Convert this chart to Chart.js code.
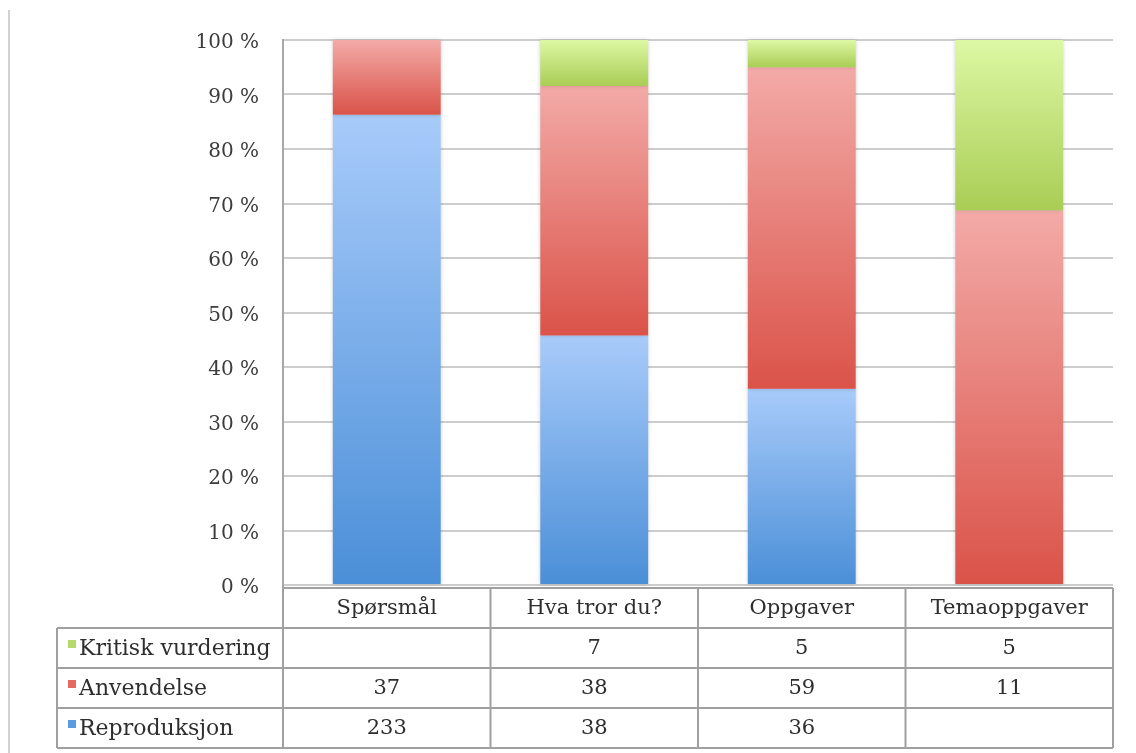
<!DOCTYPE html>
<html>
<head>
<meta charset="utf-8">
<script src="https://cdn.jsdelivr.net/npm/chart.js@4/dist/chart.umd.min.js"></script>
<style>
  body { margin: 0; background: #fff; }
  canvas { display: block; }
</style>
</head>
<body>
<canvas id="myChart" width="1136" height="753"></canvas>
<script>
// counts per category
const categories = ['Spørsmål', 'Hva tror du?', 'Oppgaver', 'Temaoppgaver'];
const seriesNames = ['Reproduksjon', 'Anvendelse', 'Kritisk vurdering'];
const reproduksjon = [233, 38, 36, null];
const anvendelse = [37, 38, 59, 11];
const kritisk = [null, 7, 5, 5];
const yTicks = [0, 10, 20, 30, 40, 50, 60, 70, 80, 90, 100];

// top / bottom colours of the bar gradients, and the legend square colour
const shades = [
    { top: '#a8cbfa', bottom: '#4b8fd8', key: '#5d9ce2' },   // blue
    { top: '#f3aaa7', bottom: '#da5349', key: '#e46a62' },   // red
    { top: '#ddf8a4', bottom: '#a9cd55', key: '#b5d96a' }    // green
];

const series = [reproduksjon, anvendelse, kritisk];
const totals = categories.map((c, i) => series.reduce((s, arr) => s + (arr[i] || 0), 0));
const asPercent = arr => arr.map((v, i) => (v || 0) / totals[i] * 100);

const FONT = "'DejaVu Serif', serif";

// paint each stacked segment with its own vertical gradient
const gradientBars = {
    id: 'gradientBars',
    afterDatasetsDraw(chart) {
        const ctx = chart.ctx;
        chart.data.datasets.forEach((ds, d) => {
            const meta = chart.getDatasetMeta(d);
            meta.data.forEach(el => {
                const h = el.base - el.y;
                if (h <= 0.5) return;
                const g = ctx.createLinearGradient(0, el.y, 0, el.base);
                g.addColorStop(0, shades[d].top);
                g.addColorStop(1, shades[d].bottom);
                ctx.save();
                ctx.shadowColor = 'rgba(0,0,0,0.18)';
                ctx.shadowBlur = 4;
                ctx.fillStyle = g;
                ctx.fillRect(el.x - el.width / 2, el.y, el.width, h);
                ctx.restore();
            });
        });
    }
};

// data table under the plot, columns follow the category scale
const dataTable = {
    id: 'dataTable',
    afterDraw(chart) {
        const ctx = chart.ctx;
        const a = chart.chartArea;
        const x = chart.scales.x;
        const colW = (a.right - a.left) / categories.length;
        const rowH = 40;
        const top = a.bottom + 3;
        const labelLeft = 57;
        const rows = [2, 1, 0]; // Kritisk, Anvendelse, Reproduksjon

        ctx.save();
        // page edge line
        ctx.strokeStyle = '#d2d2d2';
        ctx.lineWidth = 2;
        ctx.beginPath();
        ctx.moveTo(9, 10);
        ctx.lineTo(9, 753);
        ctx.stroke();

        ctx.strokeStyle = '#a0a0a0';
        ctx.lineWidth = 2;
        ctx.beginPath();
        // horizontal lines
        ctx.moveTo(a.left, top);
        ctx.lineTo(a.right, top);
        for (let r = 1; r <= 4; r++) {
            ctx.moveTo(labelLeft, top + r * rowH);
            ctx.lineTo(a.right, top + r * rowH);
        }
        // vertical lines
        ctx.moveTo(labelLeft, top + rowH);
        ctx.lineTo(labelLeft, top + 4 * rowH);
        for (let c = 0; c <= categories.length; c++) {
            const cx = a.left + c * colW;
            ctx.moveTo(cx, c === 0 ? a.bottom : top);
            ctx.lineTo(cx, top + 4 * rowH);
        }
        ctx.stroke();

        ctx.fillStyle = '#2e2e2e';
        ctx.textBaseline = 'middle';
        ctx.textAlign = 'center';
        ctx.font = '21px ' + FONT;
        categories.forEach((c, i) => {
            ctx.fillText(c, x.getPixelForValue(i), top + rowH / 2 + 1);
        });

        rows.forEach((s, r) => {
            const cy = top + (r + 1) * rowH + rowH / 2 + 1;
            ctx.fillStyle = shades[s].key;
            ctx.fillRect(labelLeft + 11, cy - 9, 8, 8);
            ctx.fillStyle = '#2e2e2e';
            ctx.textAlign = 'left';
            ctx.font = '22px ' + FONT;
            ctx.fillText(seriesNames[s], labelLeft + 22, cy);
            ctx.textAlign = 'center';
            ctx.font = '21px ' + FONT;
            series[s].forEach((v, i) => {
                if (v == null) return;
                ctx.fillText(String(v), x.getPixelForValue(i), cy);
            });
        });
        ctx.restore();
    }
};

const ctx = document.getElementById('myChart').getContext('2d');
const myChart = new Chart(ctx, {
    type: 'bar',
    data: {
        labels: categories,
        datasets: series.map((arr, i) => ({
            label: seriesNames[i],
            data: asPercent(arr),
            backgroundColor: 'rgba(0,0,0,0)',
            borderWidth: 0,
            categoryPercentage: 1,
            barPercentage: 0.52
        }))
    },
    options: {
        responsive: false,
        animation: false,
        layout: { padding: { top: 40, right: 23, bottom: 168, left: 0 } },
        plugins: {
            legend: { display: false },
            tooltip: { enabled: false }
        },
        scales: {
            x: {
                stacked: true,
                display: false
            },
            y: {
                stacked: true,
                min: 0,
                max: 100,
                afterBuildTicks(scale) {
                    scale.ticks = yTicks.map(v => ({ value: v }));
                },
                afterFit(scale) { scale.width = 283; },
                grid: { color: '#cdcdcd', lineWidth: 2, drawTicks: false },
                border: { display: true, color: '#a8a8a8', width: 2 },
                ticks: {
                    padding: 24,
                    labelOffset: 3,
                    color: '#3c3c3c',
                    font: { family: FONT, size: 20 },
                    callback: v => v + ' %'
                }
            }
        }
    },
    plugins: [gradientBars, dataTable]
});
</script>
</body>
</html>
